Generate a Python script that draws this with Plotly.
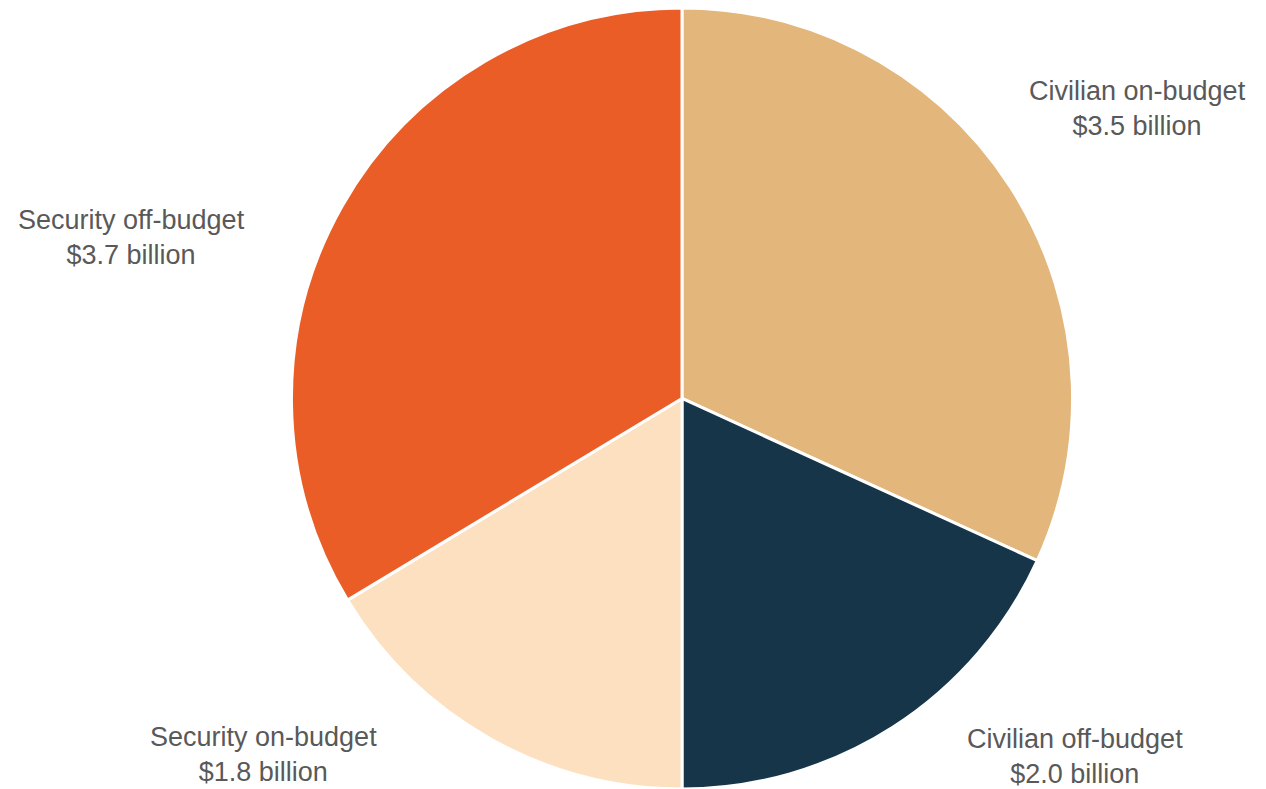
import plotly.graph_objects as go

categories = ["Civilian on-budget", "Civilian off-budget", "Security on-budget", "Security off-budget"]
values = [3.5, 2.0, 1.8, 3.7]
value_labels = ["$3.5 billion", "$2.0 billion", "$1.8 billion", "$3.7 billion"]
colors = ["#E3B67B", "#163548", "#FCE0BF", "#EA5D27"]

W, H = 1266, 789
# label centre positions (pixels from top-left)
label_px = [(1137, 108), (1075, 756), (263, 754), (131, 237)]

fig = go.Figure(go.Pie(
    labels=categories,
    values=values,
    marker=dict(colors=colors, line=dict(color="white", width=3)),
    sort=False,
    direction="clockwise",
    rotation=0,
    textinfo="none",
    hoverinfo="label+value",
    domain=dict(x=[0.0774, 1.0], y=[0.0, 0.99]),
    showlegend=False,
))

for cat, vl, (px, py) in zip(categories, value_labels, label_px):
    fig.add_annotation(
        x=px / W, y=1 - py / H, xref="paper", yref="paper",
        text=f"{cat}<br>{vl}", showarrow=False,
        xanchor="center", yanchor="middle", align="center",
        font=dict(family="Liberation Sans, Arial, sans-serif", size=27, color="#595959"),
    )

fig.update_layout(
    width=W, height=H,
    margin=dict(l=0, r=0, t=0, b=0),
    paper_bgcolor="white", plot_bgcolor="white",
)

fig.write_html("out.html", config={"displayModeBar": False},
               post_script="document.body.style.margin='0';document.body.style.padding='0';")
